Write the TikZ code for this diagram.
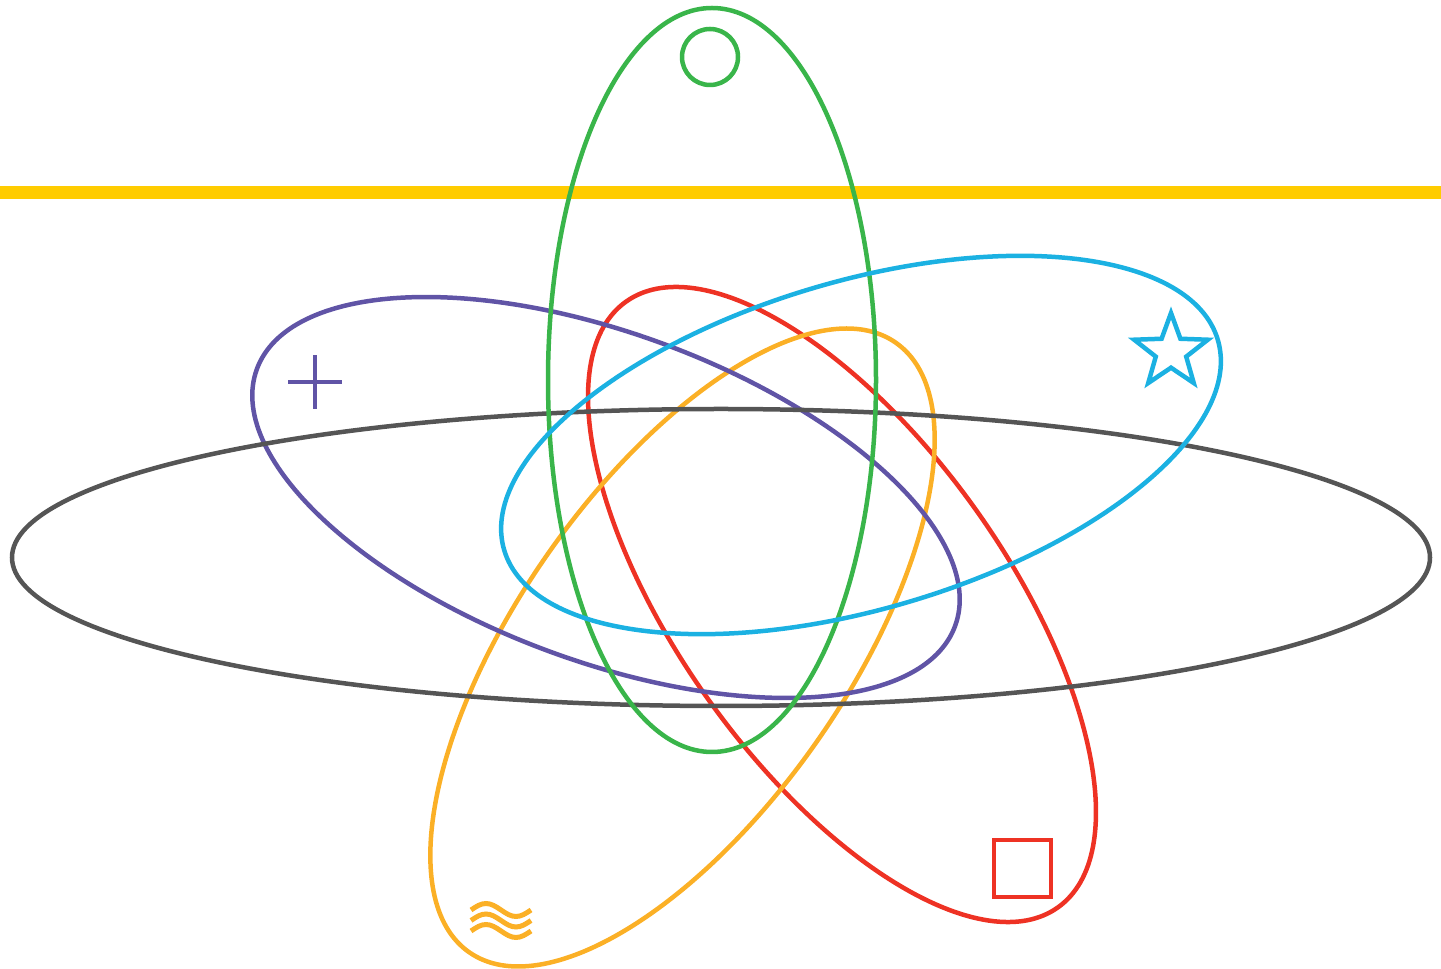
\documentclass[tikz,border=0pt]{standalone}
\usepackage{tikz}
\usetikzlibrary{calc}
\definecolor{AtomGray}{RGB}{85,85,85}
\definecolor{AtomGreen}{RGB}{57,181,74}
\definecolor{AtomPurple}{RGB}{96,84,166}
\definecolor{AtomCyan}{RGB}{27,177,226}
\definecolor{AtomRed}{RGB}{238,50,36}
\definecolor{AtomOrange}{RGB}{251,176,38}
\definecolor{AtomYellow}{RGB}{255,204,0}
\tikzset{
  atom/band/.style={line width=12.5pt, draw=AtomYellow},
  atom/ring/.style={line width=4.5pt},
  atom/mark/.style={line width=4.5pt, line join=miter},
  atom/wave/.style={line width=5pt, draw=AtomOrange}
}
\begin{document}
\begin{tikzpicture}[x=1pt,y=1pt]
  \useasboundingbox (0,0) rectangle (1441,969);
  \coordinate (bandL) at (0,776.5);
  \coordinate (bandR) at (1441,776.5);
  \draw[atom/band] (bandL) -- (bandR);
  % orbits
  \foreach \col/\cx/\cy/\ang in {AtomRed/842/364.5/-54.5,AtomOrange/682.5/321.5/55,
    AtomPurple/606/471.5/-20.2}
  {\draw[atom/ring,draw=\col,rotate around={\ang:(\cx,\cy)}] (\cx,\cy) ellipse [x radius=372,y radius=164];}
  \draw[atom/ring,draw=AtomGray] (721,411.5) ellipse [x radius=709,y radius=148.5];
  \foreach \col/\cx/\cy/\ang in {AtomGreen/712/589/90,AtomCyan/861/524/16.4}
  {\draw[atom/ring,draw=\col,rotate around={\ang:(\cx,\cy)}] (\cx,\cy) ellipse [x radius=372,y radius=164];}
  % marks
  \coordinate (ring) at (710,912);
  \coordinate (plus) at (315,587);
  \coordinate (star) at (1171,617.3);
  \coordinate (box) at (1022.5,100.5);
  \coordinate (wave) at (471,59);
  \draw[atom/mark,draw=AtomGreen] (ring) circle [radius=28];
  \draw[atom/mark,draw=AtomPurple,line width=4pt] ($(plus)+(-27,0)$) -- ($(plus)+(27,0)$)
    ($(plus)+(0,-27)$) -- ($(plus)+(0,27)$);
  \draw[atom/mark,draw=AtomCyan,shift={(star)}] (90:38.7)
    \foreach \i in {1,...,9} {-- ({90+36*\i}:{mod(\i,2)==1 ? 16 : 38.7})} -- cycle;
  \draw[atom/mark,draw=AtomRed] ($(box)+(-28.5,-28.5)$) rectangle ($(box)+(28.5,28.5)$);
  \foreach \dy in {0,-10.5,-21}
  {\draw[atom/wave] ($(wave)+(0,\dy)$) sin ++(15,6.5) cos ++(15,-6.5) sin ++(15,-6.5) cos ++(15,6.5);}
\end{tikzpicture}
\end{document}
